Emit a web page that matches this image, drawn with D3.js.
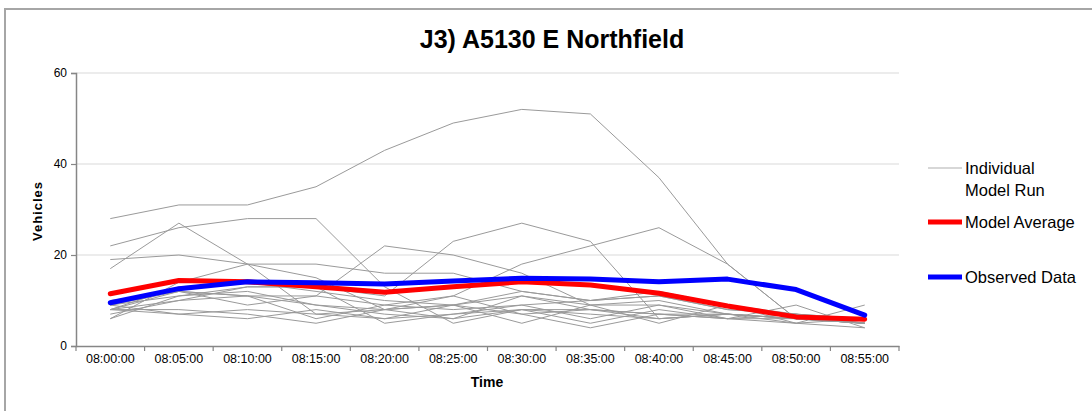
<!DOCTYPE html>
<html>
<head>
<meta charset="utf-8">
<script src="https://cdn.jsdelivr.net/npm/d3@7"></script>
<style>
  html, body { margin: 0; padding: 0; background: #fff; }
  svg { display: block; font-family: "Liberation Sans", Arial, sans-serif; }
</style>
</head>
<body>
<svg id="chart" width="1092" height="411"></svg>
<script>
// Time slots along the x axis
const times = ["08:00:00","08:05:00","08:10:00","08:15:00","08:20:00","08:25:00",
               "08:30:00","08:35:00","08:40:00","08:45:00","08:50:00","08:55:00"];

// Individual model runs (vehicles per 5 minutes)
const modelRuns = [
  [28, 31, 31, 35, 43, 49, 52, 51, 37, 18, 6, 5],
  [22, 26, 28, 28, 13, 5, 8, 8, 7, 6, 6, 5],
  [17, 27, 18, 7, 8, 6, 8, 7, 6, 7, 6, 5],
  [19, 20, 18, 15, 8, 9, 11, 9, 10, 7, 6, 5],
  [6, 14, 18, 18, 16, 16, 12, 10, 11, 8, 7, 6],
  [8, 12, 9, 11, 22, 20, 16, 9, 9, 7, 6, 5],
  [9, 11, 13, 13, 11, 23, 27, 23, 6, 7, 6, 5],
  [8, 10, 11, 9, 8, 11, 18, 22, 26, 18, 6, 5],
  [8, 13, 14, 12, 10, 9, 12, 10, 12, 9, 7, 6],
  [10, 12, 11, 11, 9, 8, 9, 10, 11, 8, 7, 5],
  [9, 7, 6, 8, 6, 7, 8, 5, 8, 6, 9, 4],
  [8, 8, 7, 5, 8, 9, 5, 9, 5, 9, 5, 9],
  [6, 11, 12, 9, 7, 6, 11, 8, 7, 7, 6, 6],
  [8, 7, 8, 7, 6, 9, 7, 4, 7, 6, 5, 4],
  [7, 10, 13, 13, 5, 7, 9, 6, 9, 6, 7, 5],
  [9, 12, 11, 6, 9, 11, 7, 8, 6, 7, 5, 6]
];

// Average of the model runs
const modelAverage = [11.5, 14.4, 14.1, 13.0, 11.8, 13.0, 14.1, 13.4, 11.6, 8.8, 6.4, 5.9];

// Observed counts
const observedData = [9.5, 12.6, 14.1, 13.9, 13.6, 14.3, 14.9, 14.7, 14.1, 14.7, 12.4, 6.8];

const yTicks = [0, 20, 40, 60];

const svg = d3.select("#chart");
const plot = { left: 76, right: 899, top: 73, bottom: 346 };

// Outer frame
svg.append("rect")
  .attr("x", 5).attr("y", 9)
  .attr("width", 1100).attr("height", 420)
  .attr("fill", "#fff")
  .attr("stroke", "#a6a6a6").attr("stroke-width", 2);

const x = d3.scaleBand().domain(times).range([plot.left, plot.right]).padding(0);
const y = d3.scaleLinear().domain([0, 60]).range([plot.bottom, plot.top]);
const cx = t => x(t) + x.bandwidth() / 2;

// Horizontal gridlines
svg.append("g")
  .selectAll("line")
  .data(yTicks.filter(v => v > 0))
  .join("line")
  .attr("x1", plot.left).attr("x2", plot.right)
  .attr("y1", d => y(d)).attr("y2", d => y(d))
  .attr("stroke", "#d9d9d9").attr("stroke-width", 1.2);

// Y axis
const yAxis = svg.append("g")
  .attr("transform", `translate(${plot.left},0)`)
  .call(d3.axisLeft(y).tickValues(yTicks).tickSize(5).tickPadding(4).tickFormat(d3.format("d")));
yAxis.select(".domain").attr("stroke", "#868686").attr("stroke-width", 1.5);
yAxis.selectAll(".tick line").attr("stroke", "#868686").attr("stroke-width", 1.2);
yAxis.selectAll(".tick text").attr("font-size", 12).attr("fill", "#000")
  .attr("font-family", "Liberation Sans, Arial, sans-serif");

// X axis: labels centred in each slot, ticks on slot boundaries
const xAxis = svg.append("g")
  .attr("transform", `translate(0,${plot.bottom})`)
  .call(d3.axisBottom(x).tickSize(0).tickPadding(8));
xAxis.select(".domain").attr("stroke", "#868686").attr("stroke-width", 1.5);
xAxis.selectAll(".tick text").attr("font-size", 12.5).attr("fill", "#000")
  .attr("font-family", "Liberation Sans, Arial, sans-serif");
const bounds = times.map(t => x(t)).concat([x(times[times.length - 1]) + x.bandwidth()]);
svg.append("g")
  .selectAll("line")
  .data(bounds)
  .join("line")
  .attr("x1", d => d).attr("x2", d => d)
  .attr("y1", plot.bottom).attr("y2", plot.bottom + 5)
  .attr("stroke", "#868686").attr("stroke-width", 1.2);

const line = d3.line().x((d, i) => cx(times[i])).y(d => y(d));

// Individual runs
svg.append("g")
  .selectAll("path")
  .data(modelRuns)
  .join("path")
  .attr("d", line)
  .attr("fill", "none")
  .attr("stroke", "#9a9a9a")
  .attr("stroke-width", 1);

// Model average and observed data
svg.append("path").datum(modelAverage)
  .attr("d", line).attr("fill", "none")
  .attr("stroke", "#ff0000").attr("stroke-width", 5)
  .attr("stroke-linejoin", "round").attr("stroke-linecap", "round");
svg.append("path").datum(observedData)
  .attr("d", line).attr("fill", "none")
  .attr("stroke", "#0000ff").attr("stroke-width", 5)
  .attr("stroke-linejoin", "round").attr("stroke-linecap", "round");

// Title and axis titles
svg.append("text")
  .attr("x", 552).attr("y", 48)
  .attr("text-anchor", "middle")
  .attr("font-size", 25).attr("font-weight", "bold")
  .text("J3) A5130 E Northfield");

svg.append("text")
  .attr("x", 487).attr("y", 387)
  .attr("text-anchor", "middle")
  .attr("font-size", 14).attr("font-weight", "bold")
  .text("Time");

svg.append("text")
  .attr("transform", "translate(42,211) rotate(-90)")
  .attr("text-anchor", "middle")
  .attr("font-size", 13).attr("font-weight", "bold")
  .attr("letter-spacing", 1)
  .text("Vehicles");

// Legend
const legend = svg.append("g");
const legendItems = [
  { label: ["Individual", "Model Run"], color: "#b0b0b0", width: 1.2, y: 168 },
  { label: ["Model Average"], color: "#ff0000", width: 5, y: 222 },
  { label: ["Observed Data"], color: "#0000ff", width: 5, y: 277 }
];
legendItems.forEach(item => {
  legend.append("line")
    .attr("x1", 928).attr("x2", 962)
    .attr("y1", item.y).attr("y2", item.y)
    .attr("stroke", item.color).attr("stroke-width", item.width);
  item.label.forEach((s, i) => {
    legend.append("text")
      .attr("x", 965).attr("y", item.y + 6 + i * 22)
      .attr("font-size", 16.5)
      .text(s);
  });
});
</script>
</body>
</html>
